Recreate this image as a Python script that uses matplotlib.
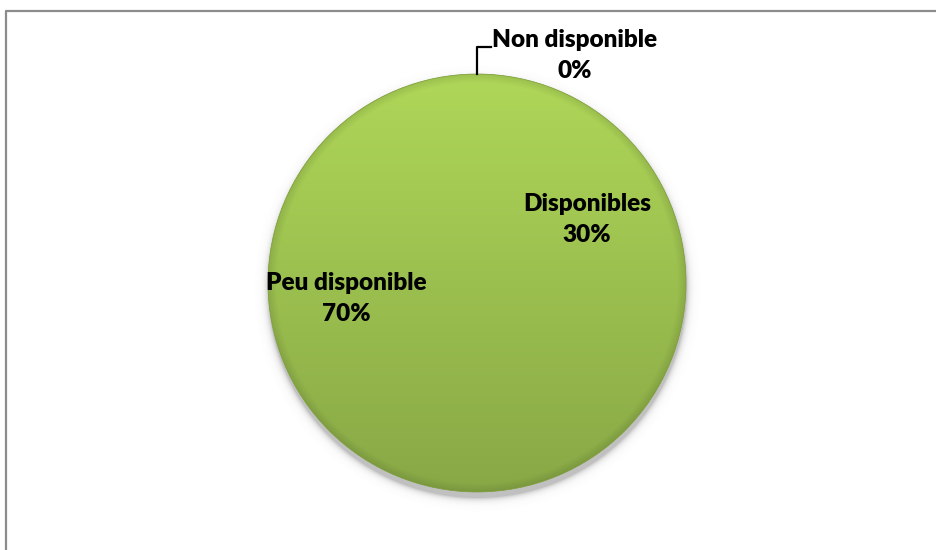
import matplotlib.pyplot as plt
import numpy as np
from matplotlib.patches import Circle
from matplotlib.colors import to_rgb

labels = ['Disponibles', 'Peu disponible', 'Non disponible']
values = [30, 70, 0]

W, H = 936, 550
cx, cy, r = 477, H - 283, 209

plt.rcParams['font.family'] = ['Lato', 'DejaVu Sans']

fig = plt.figure(figsize=(9.36, 5.5), dpi=100)
ax = fig.add_axes([0, 0, 1, 1])

# soft shadow under the pie
pad = 30
ys, xs = np.mgrid[cy + r + pad:cy - r - pad:-1, cx - r - pad:cx + r + pad]
d = np.hypot(xs - cx, ys - (cy - 5)) - r
sh = np.zeros(xs.shape + (4,))
sh[..., :3] = 0.45
sh[..., 3] = np.where(d > 0, 0.45 * np.exp(-d / 3.0), 0.45)
ax.imshow(sh, extent=(cx - r - pad, cx + r + pad, cy - r - pad, cy + r + pad),
          zorder=1, interpolation='bilinear')

wedges, _ = ax.pie(values, colors=['#9dc24f'] * 3, startangle=90, counterclock=False,
                   center=(cx, cy), radius=r, wedgeprops=dict(linewidth=0, zorder=2))

# vertical shading with a darker rim
N = 400
t = np.linspace(0, 1, N)
top = np.array(to_rgb('#afd758'))
bot = np.array(to_rgb('#88a846'))
img = top[None, None, :] * (1 - t)[:, None, None] + bot[None, None, :] * t[:, None, None]
img = np.repeat(img, N, axis=1)
gy, gx = np.mgrid[-1:1:N * 1j, -1:1:N * 1j]
rho = np.hypot(gx, gy)
rim = 1 - 0.10 * np.clip((rho - 0.96) / 0.04, 0, 1)
img = img * rim[..., None]
im = ax.imshow(img, extent=(cx - r, cx + r, cy - r, cy + r), zorder=3,
               interpolation='bilinear')
clip = Circle((cx, cy), r, transform=ax.transData)
im.set_clip_path(clip)
ax.add_patch(Circle((cx, cy), r, fill=False, edgecolor='#7f9e40', lw=0.5, zorder=4))

# leader line for the empty slice
ang = np.deg2rad(wedges[2].theta1)
x0, y0 = cx + r * np.cos(ang), cy + r * np.sin(ang)
ax.plot([x0, x0, x0 + 14], [y0, H - 47, H - 47], color='black', lw=1.6, zorder=5)

# name on the first line, percentage on the second
label_pos = [(587, 219), (346, 298), (575, 55)]
for lab, v, (lx, ly) in zip(labels, values, label_pos):
    ax.text(lx, H - ly + 15, lab, ha='center', va='center', fontsize=17.5,
            fontweight='heavy', zorder=6)
    ax.text(lx, H - ly - 16, f'{v}%', ha='center', va='center', fontsize=17.5,
            fontweight='heavy', zorder=6)

# chart border
ax.plot([5.5, 5.5, W], [0, H - 11, H - 11], color='#8c8c8c', lw=1.6, zorder=6)

ax.set_xlim(0, W)
ax.set_ylim(0, H)
ax.set_aspect('auto')
ax.axis('off')
fig.savefig('out.png', dpi=100)
